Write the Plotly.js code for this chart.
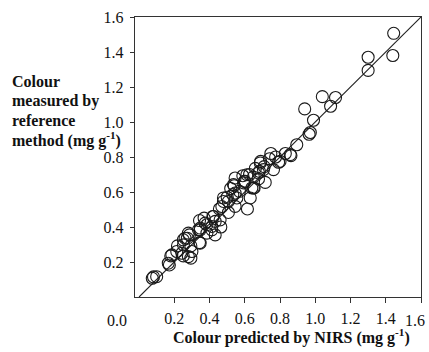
<!DOCTYPE html>
<html>
<head>
<meta charset="utf-8">
<script src="https://cdn.plot.ly/plotly-3.0.1.min.js"></script>
<style>html,body{margin:0;padding:0;background:#fff;}#chart{width:429px;height:352px;}</style>
</head>
<body>
<div id="chart"></div>
<script>
// Colour predicted by NIRS (mg g-1)
var nirs = [1.445,1.44,1.30,1.30,1.04,1.115,1.087,0.94,0.99,0.965,0.972,0.895,
  0.862,0.83,0.792,0.748,0.74,0.763,0.69,0.683,0.716,0.678,0.653,0.627,0.597,0.589,0.545,0.54,0.57,0.631,
  0.615,0.555,0.532,0.545,0.479,0.456,0.507,0.419,0.46,0.464,0.369,0.343,0.347,0.385,0.413,0.343,0.286,
  0.274,0.251,0.294,0.218,0.214,0.251,0.294,0.18,0.172,0.10,0.075,
  0.593,0.536,0.612,0.649,0.64,0.507,0.479,0.47,0.422,0.347,0.375,0.28,0.858,0.80,0.688,0.706,0.678,
  0.602,0.545,0.649,0.186,0.166,0.252,0.261,0.243,0.28,0.30,0.347,0.337,0.385,0.413,0.432,0.432,0.082,
  0.71,0.775,0.66,0.52,0.50];
// Colour measured by reference method (mg g-1)
var reference = [1.507,1.38,1.37,1.295,1.145,1.14,1.09,1.075,1.01,0.93,0.94,0.87,
  0.808,0.82,0.77,0.82,0.79,0.728,0.775,0.718,0.655,0.675,0.623,0.70,0.661,0.693,0.68,0.636,0.604,0.566,
  0.503,0.566,0.585,0.518,0.546,0.503,0.483,0.46,0.441,0.40,0.451,0.437,0.384,0.365,0.384,0.311,0.355,
  0.336,0.327,0.292,0.292,0.26,0.235,0.222,0.235,0.183,0.116,0.107,
  0.652,0.642,0.699,0.686,0.623,0.546,0.566,0.517,0.46,0.394,0.422,0.365,0.814,0.775,0.766,0.728,0.709,
  0.661,0.594,0.623,0.241,0.193,0.298,0.336,0.25,0.231,0.26,0.308,0.384,0.413,0.403,0.355,0.432,0.115,
  0.745,0.80,0.735,0.62,0.57];
// 1:1 line
var lineX = [0, 1.6];
var lineY = [0, 1.6];
var tickVals = [0.2,0.4,0.6,0.8,1.0,1.2,1.4,1.6];
var tickText = ["0.2","0.4","0.6","0.8","1.0","1.2","1.4","1.6"];
var originLabel = "0.0";

var L = 135, R = 421, T = 17, B = 297;
function px(x){ return (x - L) / (R - L); }
function py(y){ return (B - y) / (B - T); }

var serif = "Liberation Serif, Times New Roman, serif";
var tickFont = {family: serif, size: 16, color: '#111'};
var titleFont = {family: serif, size: 16, color: '#111', weight: 'bold'};

var traces = [
  {x: lineX, y: lineY, mode: 'lines', line: {color: '#222', width: 1.1}, hoverinfo: 'skip', cliponaxis: false},
  {x: nirs, y: reference, mode: 'markers', marker: {symbol: 'circle-open', size: 12, color: '#1a1a1a', line: {width: 1.1, color: '#1a1a1a'}}}
];

// x tick labels: last one is nudged left inside the page, as in the original
var xTickText = tickText.map(function(t, i){ return i === tickText.length - 1 ? '' : t; });

var yLines = ["Colour", "measured by", "reference", "method (mg g<sup>-1</sup>)"];
var yLineY = [82, 101, 120, 139];
var ann = [
  {xref: 'paper', yref: 'paper', x: px(117), y: py(320), text: originLabel, showarrow: false, xanchor: 'center', yanchor: 'middle', font: tickFont},
  {xref: 'paper', yref: 'paper', x: px(415), y: py(320), text: tickText[tickText.length - 1], showarrow: false, xanchor: 'center', yanchor: 'middle', font: tickFont},
  {xref: 'paper', yref: 'paper', x: px(291), y: py(336), text: 'Colour predicted by NIRS (mg g<sup>-1</sup>)', showarrow: false, xanchor: 'center', yanchor: 'middle', font: titleFont}
];
for (var i = 0; i < yLines.length; i++) {
  ann.push({xref: 'paper', yref: 'paper', x: px(10), y: py(yLineY[i]), text: yLines[i], showarrow: false, xanchor: 'left', yanchor: 'middle', align: 'left', font: titleFont});
}
var layout = {
  width: 429, height: 352,
  margin: {l: L, r: 429 - R, t: T, b: 352 - B, pad: 0},
  paper_bgcolor: '#fff', plot_bgcolor: '#fff',
  showlegend: false,
  xaxis: {range: [-0.023, 1.6], tickvals: tickVals, ticktext: xTickText, ticks: 'outside', ticklen: 5, tickwidth: 1, tickcolor: '#333',
    showline: true, mirror: true, linecolor: '#333', linewidth: 1.2, showgrid: false, zeroline: false,
    tickfont: tickFont, ticklabelstandoff: 2},
  yaxis: {range: [0, 1.6], tickvals: tickVals, ticktext: tickText, ticks: 'outside', ticklen: 4, tickwidth: 1, tickcolor: '#333',
    showline: true, mirror: true, linecolor: '#333', linewidth: 1.2, showgrid: false, zeroline: false,
    tickfont: tickFont, ticklabelstandoff: 3},
  annotations: ann
};
Plotly.newPlot('chart', traces, layout, {displayModeBar: false, staticPlot: true});
</script>
</body>
</html>
